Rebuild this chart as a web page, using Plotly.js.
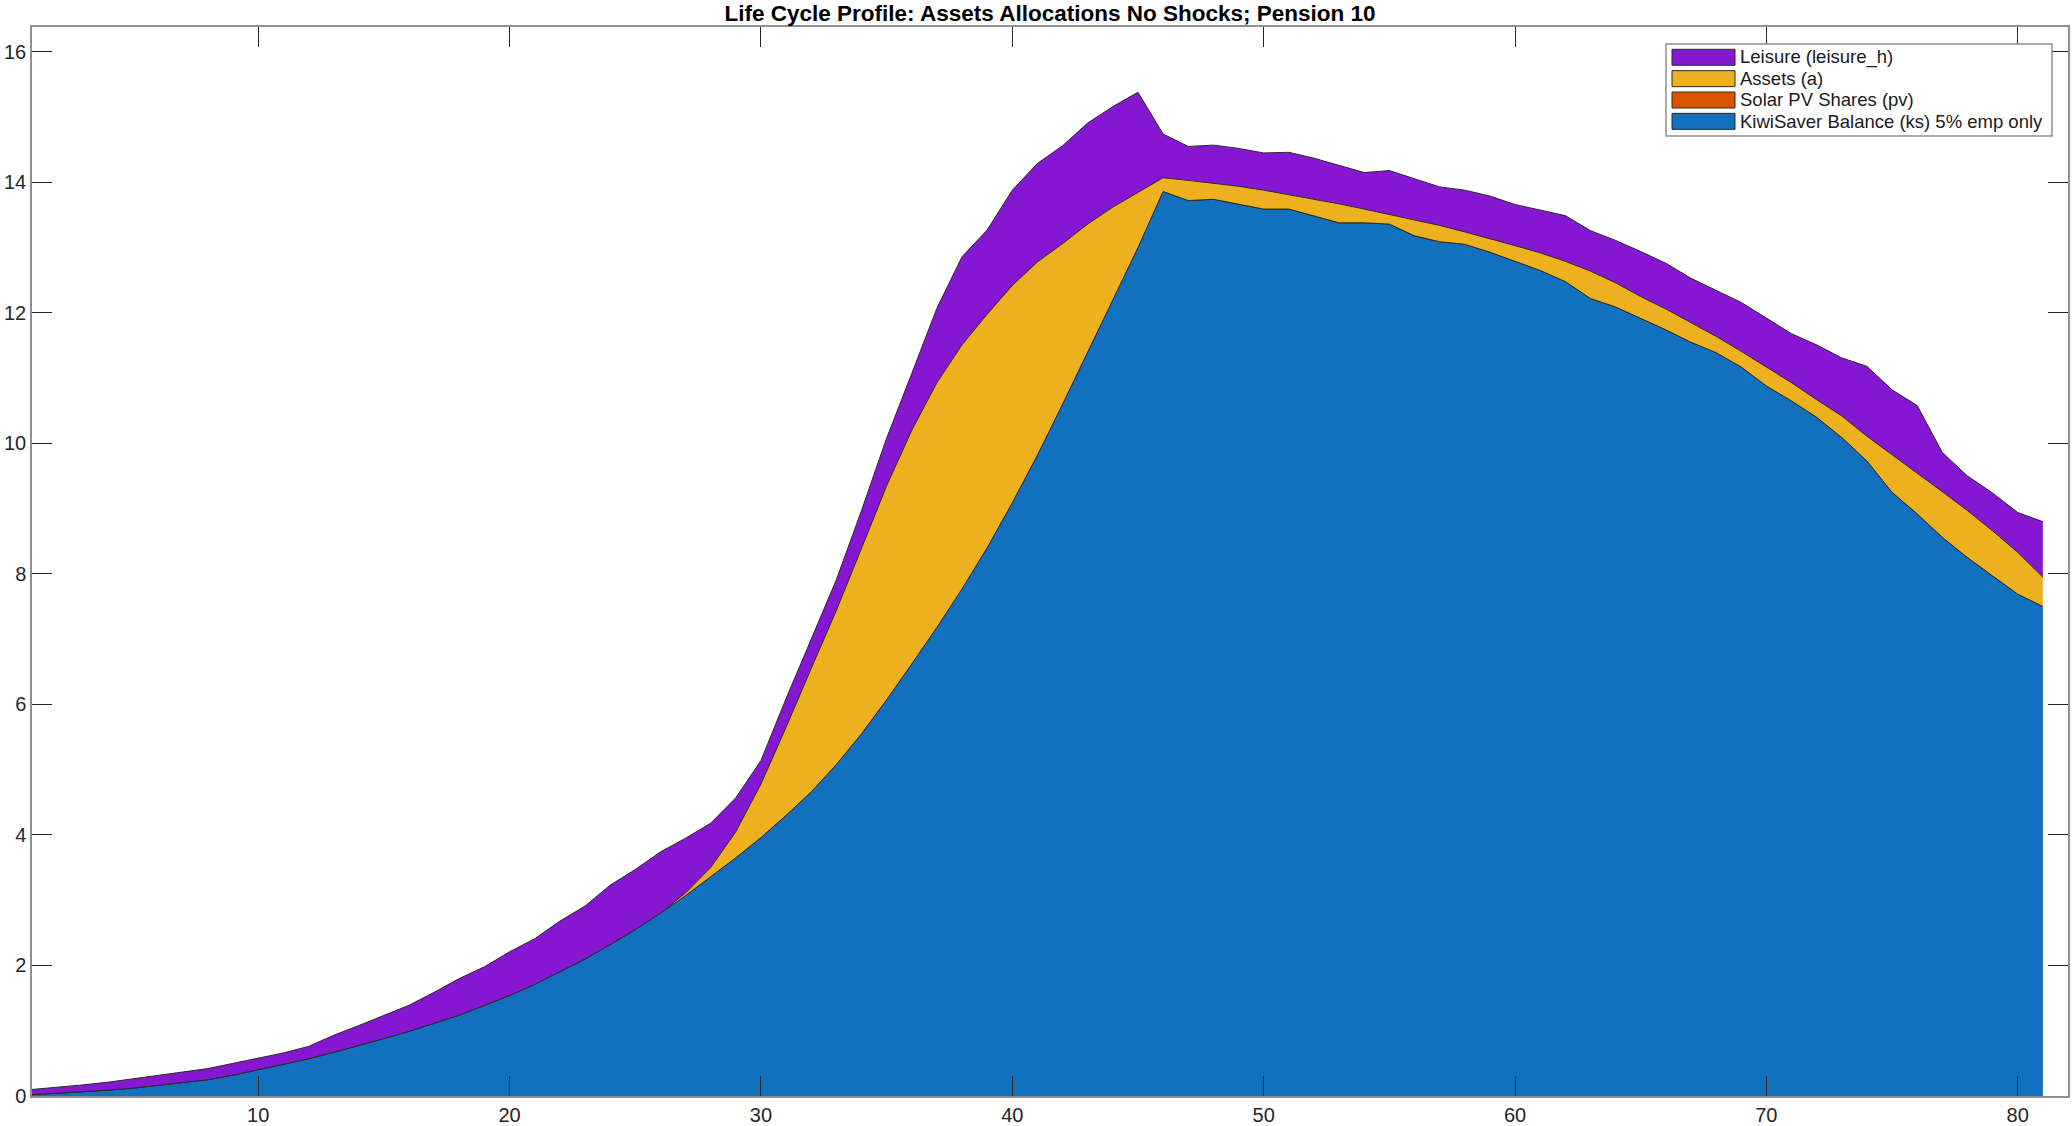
<!DOCTYPE html>
<html>
<head>
<meta charset="utf-8">
<script src="https://cdn.plot.ly/plotly-3.0.1.min.js"></script>
<style>
  html, body { margin: 0; padding: 0; background: #ffffff; }
  #chart { width: 2072px; height: 1126px; }
</style>
</head>
<body>
<div id="chart"></div>
<script>
// age index on the x axis
const ages = [1, 2, 3, 4, 5, 6, 7, 8, 9, 10,
  11, 12, 13, 14, 15, 16, 17, 18, 19, 20,
  21, 22, 23, 24, 25, 26, 27, 28, 29, 30,
  31, 32, 33, 34, 35, 36, 37, 38, 39, 40,
  41, 42, 43, 44, 45, 46, 47, 48, 49, 50,
  51, 52, 53, 54, 55, 56, 57, 58, 59, 60,
  61, 62, 63, 64, 65, 66, 67, 68, 69, 70,
  71, 72, 73, 74, 75, 76, 77, 78, 79, 80, 81];

// KiwiSaver balance (bottom layer)
const ks = [0.02, 0.04, 0.06, 0.09, 0.12, 0.16, 0.20, 0.25, 0.32, 0.40,
  0.48, 0.57, 0.67, 0.77, 0.88, 0.99, 1.11, 1.24, 1.39, 1.54,
  1.71, 1.91, 2.10, 2.32, 2.55, 2.80, 3.07, 3.36, 3.65, 3.96,
  4.30, 4.66, 5.08, 5.55, 6.07, 6.62, 7.18, 7.77, 8.40, 9.09,
  9.82, 10.60, 11.40, 12.20, 13.00, 13.86, 13.72, 13.74, 13.67, 13.59,
  13.59, 13.48, 13.38, 13.38, 13.36, 13.18, 13.09, 13.05, 12.93, 12.79,
  12.65, 12.48, 12.22, 12.09, 11.92, 11.74, 11.55, 11.39, 11.17, 10.88,
  10.65, 10.40, 10.09, 9.73, 9.25, 8.92, 8.56, 8.25, 7.97, 7.69, 7.50];

// solar PV shares (empty in this run)
const pv = [0, 0, 0, 0, 0, 0, 0, 0, 0, 0,
  0, 0, 0, 0, 0, 0, 0, 0, 0, 0,
  0, 0, 0, 0, 0, 0, 0, 0, 0, 0,
  0, 0, 0, 0, 0, 0, 0, 0, 0, 0,
  0, 0, 0, 0, 0, 0, 0, 0, 0, 0,
  0, 0, 0, 0, 0, 0, 0, 0, 0, 0,
  0, 0, 0, 0, 0, 0, 0, 0, 0, 0,
  0, 0, 0, 0, 0, 0, 0, 0, 0, 0, 0];

// assets
const assets = [0, 0, 0, 0, 0, 0, 0, 0, 0, 0,
  0, 0, 0, 0, 0, 0, 0, 0, 0, 0,
  0, 0, 0, 0, 0, 0, 0.04, 0.14, 0.40, 0.82,
  1.35, 1.89, 2.36, 2.84, 3.28, 3.58, 3.75, 3.74, 3.58, 3.33,
  2.96, 2.46, 1.96, 1.42, 0.85, 0.21, 0.31, 0.25, 0.27, 0.29,
  0.22, 0.27, 0.29, 0.21, 0.15, 0.25, 0.25, 0.19, 0.21, 0.24,
  0.27, 0.31, 0.42, 0.37, 0.33, 0.32, 0.30, 0.25, 0.24, 0.29,
  0.28, 0.27, 0.33, 0.38, 0.58, 0.63, 0.70, 0.72, 0.69, 0.64, 0.45];

// leisure (top layer)
const leisure = [0.08, 0.09, 0.11, 0.12, 0.14, 0.15, 0.16, 0.17, 0.18, 0.18,
  0.18, 0.19, 0.26, 0.31, 0.35, 0.40, 0.48, 0.56, 0.59, 0.67,
  0.70, 0.77, 0.81, 0.91, 0.92, 0.94, 0.84, 0.68, 0.52, 0.36,
  0.44, 0.44, 0.47, 0.58, 0.73, 0.87, 1.14, 1.35, 1.29, 1.46,
  1.51, 1.50, 1.55, 1.54, 1.53, 0.67, 0.52, 0.58, 0.58, 0.57,
  0.65, 0.62, 0.59, 0.56, 0.67, 0.63, 0.59, 0.64, 0.65, 0.63,
  0.65, 0.70, 0.62, 0.65, 0.69, 0.70, 0.68, 0.70, 0.75, 0.75,
  0.75, 0.84, 0.89, 1.07, 0.99, 1.03, 0.60, 0.53, 0.58, 0.61, 0.85];

const seriesNames = ['KiwiSaver Balance (ks) 5% emp only', 'Solar PV Shares (pv)',
  'Assets (a)', 'Leisure (leisure_h)'];
const seriesColors = ['#1171BE', '#DD5400', '#EDB120', '#8517D2'];
const xTicks = [10, 20, 30, 40, 50, 60, 70, 80];
const yTicks = [0, 2, 4, 6, 8, 10, 12, 14, 16];

const W = 2072, H = 1126;
const M = {l: 32, r: 4, t: 27, b: 30};
const FONT = '"Liberation Sans", Arial, Helvetica, sans-serif';

const layers = [ks, pv, assets, leisure];
const traces = layers.map(function(vals, i) {
  return {
    x: ages,
    y: vals,
    name: seriesNames[i],
    type: 'scatter',
    mode: 'lines',
    stackgroup: 'one',
    fillcolor: seriesColors[i],
    line: {color: '#2a2a2a', width: 1},
    hoverinfo: 'x+y+name',
    showlegend: false
  };
});

// legend drawn by hand so the swatches look like the MATLAB ones
const plotW = W - M.l - M.r, plotH = H - M.t - M.b;
function px(x) { return (x - M.l) / plotW; }
function py(y) { return (H - M.b - y) / plotH; }

const shapes = [{
  type: 'rect', xref: 'paper', yref: 'paper',
  x0: px(1666), x1: px(2052), y0: py(136), y1: py(44),
  fillcolor: '#ffffff', line: {color: '#8f8f8f', width: 1.5}, layer: 'above'
}];
const annotations = [];
const order = [3, 2, 1, 0];
order.forEach(function(k, row) {
  const cy = 57.3 + row * 21.35;
  shapes.push({
    type: 'rect', xref: 'paper', yref: 'paper',
    x0: px(1672), x1: px(1735), y0: py(cy + 8), y1: py(cy - 8),
    fillcolor: seriesColors[k], line: {color: '#2a2a2a', width: 1}, layer: 'above'
  });
  annotations.push({
    xref: 'paper', yref: 'paper', x: px(1738), y: py(cy),
    xanchor: 'left', yanchor: 'middle', showarrow: false,
    text: seriesNames[k],
    font: {family: FONT, size: 18.5, color: '#1a1a1a'}
  });
});

const axisCommon = {
  showgrid: false, zeroline: false,
  showline: true, linecolor: '#8f8f8f', linewidth: 1.5,
  mirror: 'ticks', ticks: 'inside', ticklen: 20, tickwidth: 1, tickcolor: '#262626',
  tickfont: {family: FONT, size: 20, color: '#262626'}
};

const layout = {
  width: W, height: H,
  margin: M,
  paper_bgcolor: '#ffffff', plot_bgcolor: '#ffffff',
  title: {
    text: 'Life Cycle Profile: Assets Allocations No Shocks; Pension 10',
    font: {family: FONT, size: 22.5, weight: 'bold', color: '#000000'},
    x: 0.5, xref: 'paper', xanchor: 'center',
    y: 1 - 13 / H, yref: 'container', yanchor: 'middle'
  },
  xaxis: Object.assign({}, axisCommon, {
    range: [1, 82], tickmode: 'array', tickvals: xTicks
  }),
  yaxis: Object.assign({}, axisCommon, {
    range: [0, 16.38], tickmode: 'array', tickvals: yTicks
  }),
  shapes: shapes,
  annotations: annotations,
  showlegend: false
};

Plotly.newPlot('chart', traces, layout, {displayModeBar: false, responsive: false});
</script>
</body>
</html>
